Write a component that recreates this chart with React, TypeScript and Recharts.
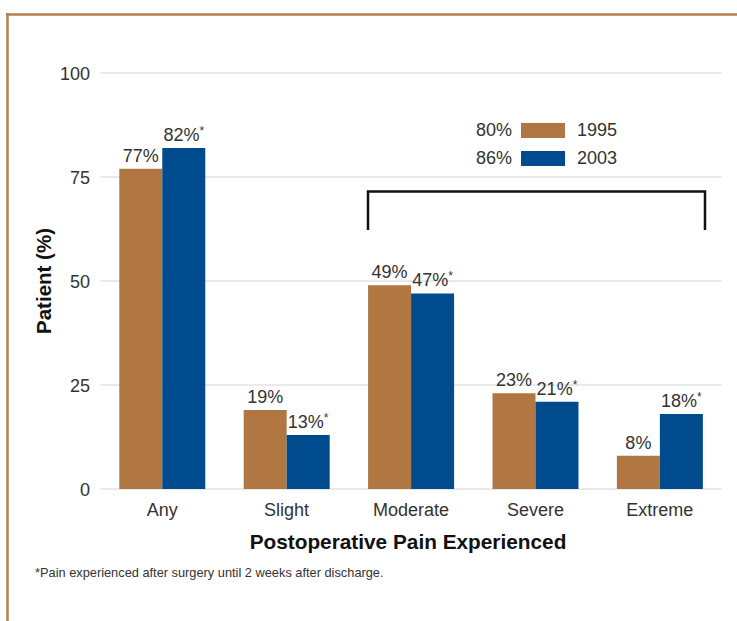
import { BarChart, Bar, XAxis, YAxis, CartesianGrid, LabelList, Legend } from "recharts";

const categories = ["Any", "Slight", "Moderate", "Severe", "Extreme"];
const values1995 = [77, 19, 49, 23, 8];
const values2003 = [82, 13, 47, 21, 18];
const seriesYears = ["1995", "2003"];
const seriesTotals = ["80%", "86%"];
const yTicks = [0, 25, 50, 75, 100];
const footnote = "*Pain experienced after surgery until 2 weeks after discharge.";

const COLOR_1995 = "#b07743";
const COLOR_2003 = "#004b8d";
const BORDER = "#b5804d";
const FONT = "'Liberation Sans', Arial, Helvetica, sans-serif";

const data = categories.map((c, i) => ({
  name: c,
  y1995: values1995[i],
  y2003: values2003[i],
}));

function ValueLabel(props: any, star: boolean) {
  const { x, y, width, value } = props;
  return (
    <text x={x + width / 2} y={y - 7} textAnchor="middle" fontSize={18} fill="#333" fontFamily={FONT}>
      {value}%
      {star && (
        <tspan fontSize={12} dy={-6}>
          *
        </tspan>
      )}
    </text>
  );
}

function XTick({ x, y, payload }: any) {
  return (
    <text x={x} y={y + 27} textAnchor="middle" fontSize={18} fill="#333" fontFamily={FONT}>
      {payload.value}
    </text>
  );
}

function YTick({ x, y, payload }: any) {
  return (
    <text x={x} y={y + 7} textAnchor="end" fontSize={18} fill="#333" fontFamily={FONT}>
      {payload.value}
    </text>
  );
}

function renderLegend({ payload }: any) {
  return (
    <div style={{ fontFamily: FONT, fontSize: 18, color: "#333" }}>
      {(payload || []).map((entry: any, i: number) => (
        <div key={entry.value} style={{ display: "flex", alignItems: "center", height: 28 }}>
          <span style={{ width: 42, textAlign: "right" }}>{seriesTotals[i]}</span>
          <span style={{ width: 44, height: 15, background: entry.color, marginLeft: 9 }} />
          <span style={{ marginLeft: 12 }}>{entry.value}</span>
        </div>
      ))}
    </div>
  );
}

export default function App() {
  return (
    <div style={{ position: "absolute", left: 0, top: 0, width: 737, height: 621, background: "#fff" }}>
      <svg width={737} height={621} style={{ position: "absolute", left: 0, top: 0 }}>
        <line x1={6} y1={14.5} x2={737} y2={14.5} stroke={BORDER} strokeWidth={2.5} />
        <line x1={7.5} y1={13} x2={7.5} y2={621} stroke={BORDER} strokeWidth={2.5} />
        {/* bracket over Moderate..Extreme */}
        <path d="M368 230 V191.5 H705 V230" fill="none" stroke="#111" strokeWidth={2.5} />
        <text x={35} y={577} fontSize={12.8} fill="#333" fontFamily={FONT}>
          {footnote}
        </text>
      </svg>
      <div style={{ position: "absolute", left: 0, top: 0 }}>
        <BarChart
          width={737}
          height={621}
          data={data}
          margin={{ top: 73, right: 15, bottom: 0, left: 0 }}
          barCategoryGap="15.5%"
          barGap={0}
        >
          <CartesianGrid vertical={false} stroke="#d4d4d4" strokeWidth={1} />
          <XAxis
            dataKey="name"
            height={132}
            axisLine={false}
            tickLine={false}
            tickSize={0}
            tickMargin={0}
            tick={<XTick />}
            label={{
              content: ({ viewBox }: any) => (
                <text
                  x={viewBox.x + viewBox.width / 2 - 3}
                  y={viewBox.y + 60}
                  textAnchor="middle"
                  fontSize={20.8}
                  fontWeight="bold"
                  fill="#111"
                  fontFamily={FONT}
                >
                  Postoperative Pain Experienced
                </text>
              ),
            }}
          />
          <YAxis
            width={100}
            domain={[0, 100]}
            ticks={yTicks}
            axisLine={false}
            tickLine={false}
            tickSize={0}
            tickMargin={10}
            tick={<YTick />}
            label={{
              content: ({ viewBox }: any) => {
                const cx = 43;
                const cy = viewBox.y + viewBox.height / 2;
                return (
                  <text
                    x={cx}
                    y={cy}
                    transform={`rotate(-90 ${cx} ${cy})`}
                    textAnchor="middle"
                    dominantBaseline="central"
                    fontSize={20.5}
                    fontWeight="bold"
                    fill="#111"
                    fontFamily={FONT}
                  >
                    Patient (%)
                  </text>
                );
              },
            }}
          />
          <Legend
            layout="horizontal"
            verticalAlign="middle"
            align="center"
            content={renderLegend}
            wrapperStyle={{ top: 116, left: 470, width: 180 }}
          />
          <Bar dataKey="y1995" name={seriesYears[0]} fill={COLOR_1995} isAnimationActive={false}>
            <LabelList dataKey="y1995" content={(p: any) => ValueLabel(p, false)} />
          </Bar>
          <Bar dataKey="y2003" name={seriesYears[1]} fill={COLOR_2003} isAnimationActive={false}>
            <LabelList dataKey="y2003" content={(p: any) => ValueLabel(p, true)} />
          </Bar>
        </BarChart>
      </div>
    </div>
  );
}
